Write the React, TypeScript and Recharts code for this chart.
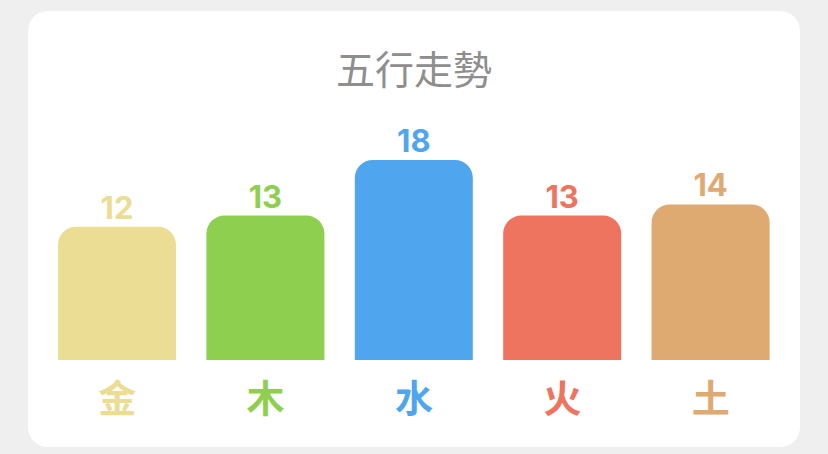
import React from 'react';
import { BarChart, Bar, XAxis, YAxis, Cell, LabelList } from 'recharts';

// 五行 counts
const elements = ['金', '木', '水', '火', '土'];
const counts = [12, 13, 18, 13, 14];
const colors = ['#ECDD94', '#8FCF50', '#4FA5EE', '#EE7460', '#DFA972'];
const yTicks = [0, 18];

const data = elements.map((name, i) => ({ name, value: counts[i] }));

const CJK = '"Noto Sans CJK TC", "Noto Sans CJK SC", sans-serif';

const ElementTick = (props: any) => {
  const { x, y, payload, index } = props;
  return (
    <text
      x={x}
      y={y + 44}
      textAnchor="middle"
      fill={colors[index]}
      fontSize={38}
      fontWeight={700}
      fontFamily={CJK}
    >
      {payload.value}
    </text>
  );
};

const ValueLabel = (props: any) => {
  const { x, y, width, value, index } = props;
  return (
    <text
      x={x + width / 2}
      y={y - 8}
      textAnchor="middle"
      fill={colors[index]}
      fontSize={31}
      fontWeight={700}
      fontFamily="Inter, Roboto, sans-serif"
    >
      {value}
    </text>
  );
};

const App = () => {
  return (
    <div
      style={{
        position: 'absolute',
        left: 0,
        top: 0,
        width: 828,
        height: 454,
        background: '#efefef',
      }}
    >
      <div
        style={{
          position: 'absolute',
          left: 28,
          top: 11,
          width: 772,
          height: 436,
          background: '#ffffff',
          borderRadius: 20,
          overflow: 'hidden',
        }}
      >
        <div
          style={{
            position: 'absolute',
            left: 0,
            top: 37,
            width: 772,
            textAlign: 'center',
            fontSize: 39,
            lineHeight: '39px',
            color: '#8e8e8e',
            fontFamily: CJK,
          }}
        >
          五行走勢
        </div>
        <BarChart
          width={772}
          height={436}
          data={data}
          margin={{ top: 149, right: 15, bottom: 27, left: 15 }}
          barSize={118}
        >
          <XAxis
            dataKey="name"
            axisLine={false}
            tickLine={false}
            height={60}
            interval={0}
            tick={<ElementTick />}
          />
          <YAxis hide domain={[0, 18]} ticks={yTicks} />
          <Bar dataKey="value" radius={[18, 18, 0, 0]} isAnimationActive={false}>
            {data.map((d, i) => (
              <Cell key={d.name} fill={colors[i]} />
            ))}
            <LabelList dataKey="value" content={<ValueLabel />} />
          </Bar>
        </BarChart>
      </div>
    </div>
  );
};

export default App;
